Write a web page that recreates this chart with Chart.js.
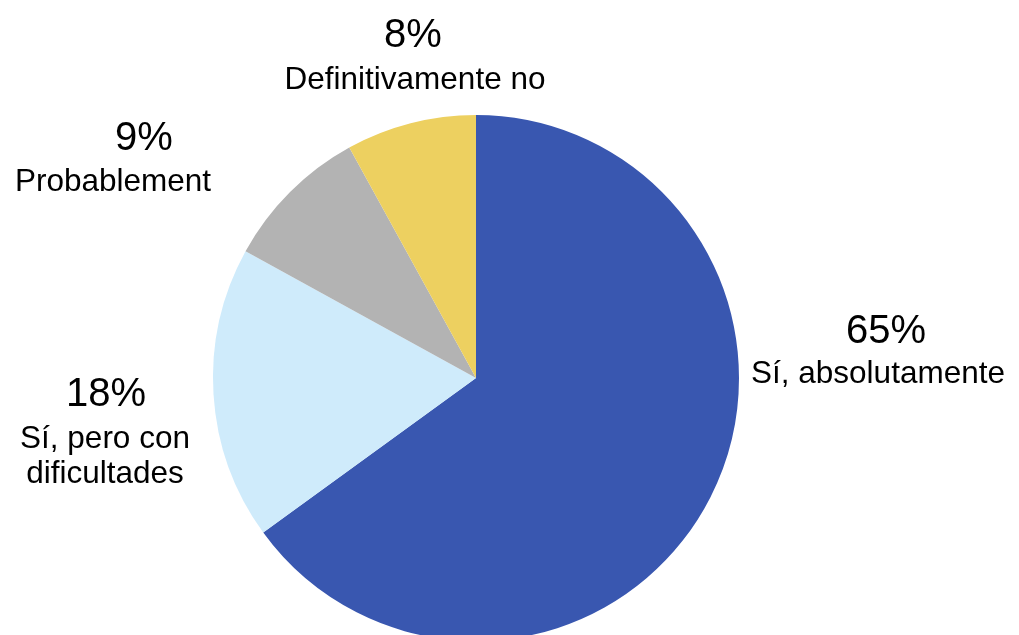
<!DOCTYPE html>
<html>
<head>
<meta charset="utf-8">
<script src="https://cdn.jsdelivr.net/npm/chart.js@4/dist/chart.umd.min.js"></script>
<style>
  html, body { margin: 0; padding: 0; background: #ffffff; overflow: hidden; }
  #c { display: block; }
</style>
</head>
<body>
<canvas id="c" width="1019" height="635"></canvas>
<script>
// ---- data ----
const categories = [
  ["Sí, absolutamente"],
  ["Sí, pero con", "dificultades"],
  ["Probablement"],
  ["Definitivamente no"]
];
const values = [65, 18, 9, 8];
const colors = ["#3957B0", "#CFEBFB", "#B3B3B3", "#EDD060"];

// label placement relative to pie centre: [dx, dy] for the percent line, then each category line
const labelOffsets = [
  [[410, -35], [402, 5]],
  [[-370, 28], [-371, 70], [-371, 105]],
  [[-332, -228], [-363, -187]],
  [[-63, -331], [-61, -289]]
];

const outsideLabels = {
  id: 'outsideLabels',
  afterDatasetsDraw(chart) {
    const ctx = chart.ctx;
    const meta = chart.getDatasetMeta(0);
    const ds = chart.data.datasets[0];
    meta.data.forEach((arc, i) => {
      const cx = arc.x, cy = arc.y;
      const offs = labelOffsets[i];
      ctx.save();
      ctx.fillStyle = '#000000';
      ctx.textAlign = 'center';
      ctx.textBaseline = 'alphabetic';
      ctx.font = '40px "Liberation Sans", Arial, sans-serif';
      ctx.fillText(ds.data[i] + '%', cx + offs[0][0], cy + offs[0][1]);
      ctx.font = '31.5px "Liberation Sans", Arial, sans-serif';
      const lines = chart.data.labels[i];
      lines.forEach((ln, k) => {
        const o = offs[k + 1];
        ctx.fillText(ln, cx + o[0], cy + o[1]);
      });
      ctx.restore();
    });
  }
};

new Chart(document.getElementById('c'), {
  type: 'pie',
  data: {
    labels: categories,
    datasets: [{
      data: values,
      backgroundColor: colors,
      borderWidth: 0,
      radius: 263
    }]
  },
  options: {
    responsive: false,
    animation: false,
    layout: { padding: { top: 121, right: 67, left: 0, bottom: 0 } },
    plugins: {
      legend: { display: false },
      tooltip: { enabled: false }
    }
  },
  plugins: [outsideLabels]
});
</script>
</body>
</html>
